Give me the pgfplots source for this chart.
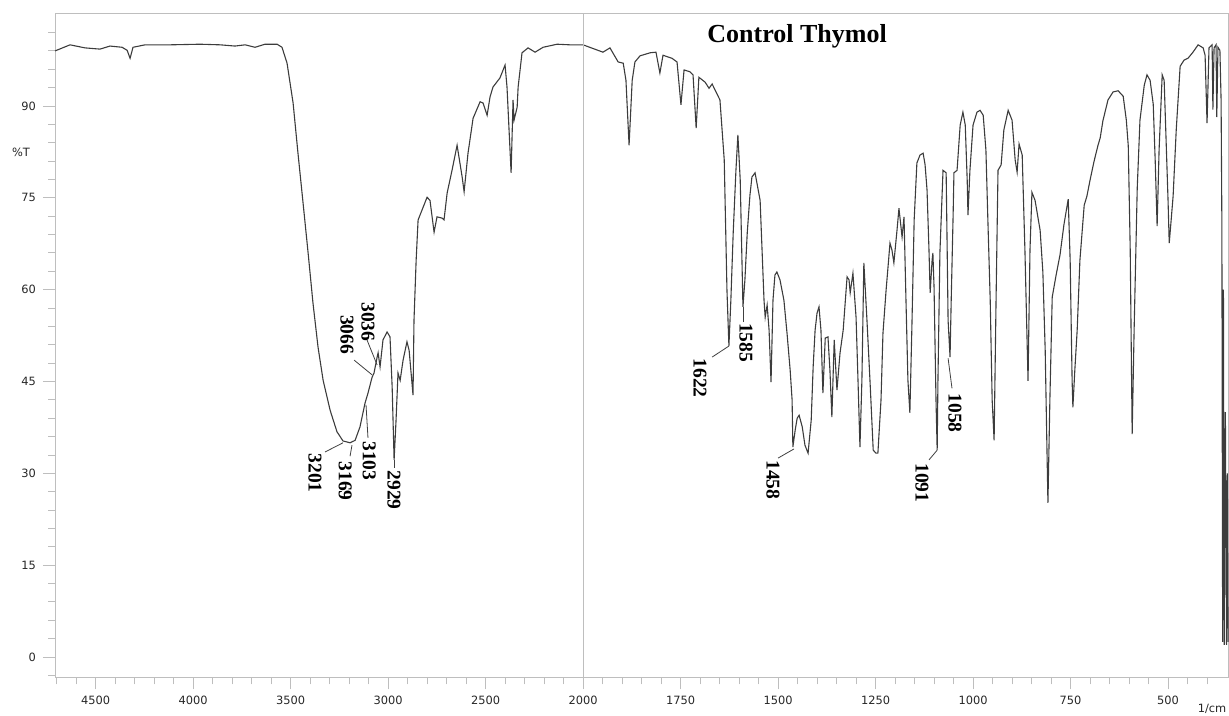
\documentclass[border=0pt]{standalone}
\usepackage{pgfplots}
\pgfplotsset{compat=1.18}
\usepackage{fontspec}
\setmainfont{DejaVu Sans}
\newfontfamily\tnr{Liberation Serif}
\definecolor{frame}{RGB}{190,190,190}
\definecolor{trace}{RGB}{60,60,60}

\begin{document}
\begin{tikzpicture}
\begin{axis}[
    scale only axis,
    width=586.5pt, height=332pt,
    x dir=reverse,
    % the scale halves above 2000 1/cm
    x coord trafo/.code={\pgfmathparse{(#1>2000)?(2000+(#1-2000)/2):(#1)}},
    x coord inv trafo/.code={\pgfmathparse{(#1>2000)?(2000+(#1-2000)*2):(#1)}},
    xmin=345, xmax=4708,
    ymin=-3.3, ymax=105.2,
    clip=false,
    axis line style={frame},
    tick style={frame, line width=0.5pt},
    tick align=outside,
    xtick pos=bottom, ytick pos=left,
    major tick length=6pt, minor tick length=3.5pt,
    xtick={4500,4000,3500,3000,2500,2000,1750,1500,1250,1000,750,500},
    xticklabels={4500,4000,3500,3000,2500,2000,1750,1500,1250,1000,750,500},
    minor xtick={4700,4600,4400,4300,4200,4100,3900,3800,3700,3600,3400,3300,3200,3100,2900,2800,2700,2600,2400,2300,2200,2100,
                 1950,1900,1850,1800,1700,1650,1600,1550,1450,1400,1350,1300,1200,1150,1100,1050,950,900,850,800,700,650,600,550,450,400},
    ytick={0,15,30,45,60,75,90},
    minor ytick={-3,3,6,9,12,18,21,24,27,33,36,39,42,48,51,54,57,63,66,69,72,78,81,84,87,93,96,99,102},
    /pgf/number format/assume math mode=true,
    ticklabel style={font=\fontsize{5.7}{6}\selectfont, text=black!85},
]
\addplot[trace, line width=0.55pt] table {
w T
4708 99.0
4631 100.0
4554 99.5
4477 99.3
4426 99.8
4364 99.6
4338 99.1
4323 97.8
4308 99.6
4246 100.0
4118 100.0
3964 100.1
3861 100.0
3785 99.8
3733 100.0
3682 99.6
3631 100.1
3569 100.1
3544 99.6
3518 97.0
3487 90.5
3462 82.3
3436 74.2
3410 66.0
3385 57.8
3359 50.6
3333 45.2
3297 40.3
3262 36.8
3231 35.3
3195 35.0
3169 35.4
3144 37.6
3118 41.5
3103 43.1
3082 45.7
3072 46.4
3056 49.0
3051 49.7
3041 47.4
3026 51.8
3005 53.1
2990 52.3
2979 44.1
2969 32.2
2959 38.7
2949 46.4
2938 45.2
2923 48.5
2903 51.5
2892 50.1
2872 42.8
2867 55.0
2856 64.8
2846 71.4
2826 73.0
2800 75.1
2785 74.6
2764 69.4
2749 71.9
2723 71.7
2713 71.4
2697 75.8
2672 79.5
2646 83.6
2620 78.4
2610 76.0
2590 82.3
2564 88.0
2528 90.7
2513 90.5
2492 88.5
2477 91.5
2462 93.1
2426 94.6
2400 96.7
2390 93.1
2369 79.1
2359 91.0
2354 87.7
2338 89.8
2333 93.1
2313 98.7
2282 99.5
2246 98.8
2205 99.6
2133 100.1
2067 100.0
2000 100.0
1949 98.8
1931 99.5
1910 97.2
1897 97.0
1890 94.2
1882 83.6
1874 94.2
1867 97.2
1854 98.2
1828 98.7
1813 98.8
1803 95.4
1795 98.3
1772 97.8
1759 97.2
1749 90.2
1741 95.9
1726 95.6
1718 95.1
1710 86.4
1703 94.7
1687 93.9
1677 92.9
1669 93.6
1659 92.3
1649 91.0
1638 81.2
1631 59.9
1626 50.8
1621 58.3
1615 69.3
1608 79.5
1603 85.3
1597 77.9
1590 57.2
1585 61.6
1579 69.3
1572 75.5
1567 78.4
1559 79.1
1546 74.6
1536 58.3
1533 55.5
1528 57.5
1523 53.4
1518 44.9
1513 58.3
1508 62.4
1503 62.9
1495 61.6
1485 58.3
1477 52.9
1469 46.9
1464 42.0
1462 34.3
1456 37.1
1451 39.0
1446 39.5
1438 37.6
1431 34.6
1423 33.3
1415 38.7
1410 47.4
1405 53.4
1400 56.2
1395 57.2
1390 53.4
1385 43.1
1379 52.1
1372 52.3
1367 46.9
1362 39.2
1356 51.8
1349 43.6
1341 49.7
1333 53.4
1323 62.1
1318 61.6
1315 59.5
1308 62.7
1300 55.5
1295 45.2
1290 34.3
1285 45.2
1280 64.4
1272 55.0
1264 44.8
1256 33.8
1249 33.3
1244 33.3
1236 42.0
1231 52.9
1223 59.9
1213 67.6
1208 66.5
1203 64.4
1195 69.7
1190 73.3
1182 68.6
1177 71.9
1172 58.3
1167 45.2
1162 39.9
1157 53.4
1151 71.4
1144 80.7
1136 82.0
1128 82.3
1123 80.4
1118 76.3
1113 66.5
1110 59.5
1105 64.8
1103 66.0
1100 60.4
1095 42.0
1092 33.8
1090 45.2
1085 66.0
1077 79.5
1069 79.1
1067 69.7
1064 55.0
1059 49.0
1056 58.3
1051 72.5
1049 79.1
1041 79.5
1033 86.9
1026 89.0
1020 86.9
1015 77.9
1013 72.2
1008 79.5
1000 86.9
990 89.0
982 89.3
974 88.5
967 82.8
962 71.4
956 58.3
951 42.0
946 35.4
941 58.3
936 79.5
928 80.4
921 86.1
910 89.3
900 87.7
892 81.2
887 79.2
882 83.8
874 82.0
867 66.5
859 45.1
854 66.5
849 75.9
841 74.6
828 69.7
821 62.9
815 50.1
810 32.2
808 25.2
803 42.0
797 58.8
787 62.4
777 65.7
767 70.6
756 74.8
751 64.8
746 45.2
744 40.8
739 46.9
733 53.4
726 64.8
715 73.8
708 75.3
700 77.9
690 80.9
680 83.5
674 84.8
667 87.6
654 91.0
641 92.3
628 92.5
615 91.6
607 87.7
602 83.5
597 66.5
592 36.4
587 53.4
579 76.6
572 87.7
561 93.4
554 95.1
546 94.2
538 90.3
533 81.2
528 70.4
523 82.8
515 95.1
510 94.2
505 84.4
500 74.6
497 67.6
492 71.4
487 75.3
479 86.1
469 96.5
459 97.5
449 97.8
436 98.8
423 100.0
410 99.5
405 98.3
400 87.2
395 99.5
387 100.0
385 89.4
382 99.5
377 100.0
375 88.2
372 99.6
367 99.1
364 91.0
362 71.0
360 2.5
358 60.0
356 2.0
353 40.0
350 2.0
348 30.0
346 2.5
};

% divider at the scale change
\draw[frame] (axis cs:2000,-3.3) -- (axis cs:2000,105.2);

% axis texts
\node[font=\fontsize{5.7}{6}\selectfont, text=black!85] at ([xshift=-17pt]rel axis cs:0,0.790) {\%T};
\node[font=\fontsize{5.7}{6}\selectfont, text=black!85, anchor=east, inner sep=0.5pt] at ([yshift=-16pt]axis cs:347,-3.3) {1/cm};
\node[font=\tnr\bfseries\fontsize{13}{15}\selectfont, anchor=base] at (axis cs:1451,100.3) {Control Thymol};

% peak labels
\tikzset{pk/.style={rotate=-90, anchor=west, inner sep=0pt, font=\tnr\bfseries\fontsize{9.75}{11}\selectfont},
         ld/.style={black!75, line width=0.4pt}}
\node[pk] at (axis cs:3374,33.3) {3201};
\draw[ld] (axis cs:3323,33.5) -- (axis cs:3231,35.0);
\node[pk] at (axis cs:3220,32.0) {3169};
\draw[ld] (axis cs:3195,32.8) -- (axis cs:3185,34.6);
\node[pk] at (axis cs:3097,35.3) {3103};
\draw[ld] (axis cs:3103,35.8) -- (axis cs:3113,41.2);
\node[pk] at (axis cs:3210,55.9) {3066};
\draw[ld] (axis cs:3174,48.5) -- (axis cs:3082,46.1);
\node[pk] at (axis cs:3103,58.0) {3036};
\draw[ld] (axis cs:3108,51.8) -- (axis cs:3056,47.7);
\node[pk] at (axis cs:2969,30.5) {2929};
\draw[ld] (axis cs:2969,30.9) -- (axis cs:2969,32.2);
\node[pk] at (axis cs:1700,48.8) {1622};
\draw[ld] (axis cs:1669,49.0) -- (axis cs:1626,50.8);
\node[pk] at (axis cs:1582,54.6) {1585};
\draw[ld] (axis cs:1590,54.7) -- (axis cs:1590,57.2);
\node[pk] at (axis cs:1513,32.2) {1458};
\draw[ld] (axis cs:1500,32.5) -- (axis cs:1459,34.0);
\node[pk] at (axis cs:1131,31.7) {1091};
\draw[ld] (axis cs:1113,32.2) -- (axis cs:1092,33.8);
\node[pk] at (axis cs:1046,43.1) {1058};
\draw[ld] (axis cs:1054,43.9) -- (axis cs:1064,48.8);

\coordinate (bl) at (rel axis cs:0,0);
\coordinate (tr) at (rel axis cs:1,1);
\end{axis}
\pgfresetboundingbox
\useasboundingbox ([xshift=-27.5pt,yshift=-19pt]bl) rectangle ([xshift=0.25pt,yshift=6.5pt]tr);
\end{tikzpicture}
\end{document}
